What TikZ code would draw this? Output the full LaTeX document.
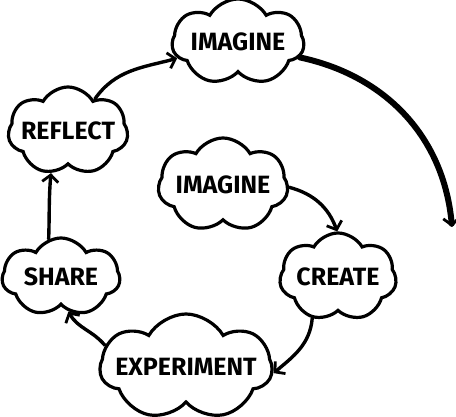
\documentclass[tikz,border=0pt]{standalone}
\usepackage{fontspec}
\setmainfont{Fira Sans}
\usetikzlibrary{shapes.symbols,arrows.meta}

\begin{document}
\begin{tikzpicture}[x=1pt, y=1pt,
  idea/.style={cloud, draw, line width=3.2pt, cloud puffs=7, cloud puff arc=120,
    inner xsep=-40pt, inner ysep=-6pt, font=\fontsize{25}{27}\selectfont\bfseries},
  flow/.style={line width=3.4pt, line cap=round,
    -{Straight Barb[length=7pt,width=16pt,line width=2.8pt]}}]
\useasboundingbox (0,0) rectangle (456,416);
% clouds
\node[idea, aspect=1.7, minimum width=132pt, minimum height=86pt] (imtop) at (238,374) {IMAGINE};
\node[idea, aspect=1.55, minimum width=120pt, minimum height=88pt] (reflect) at (68,285) {REFLECT};
\node[idea, aspect=1.45, minimum width=130pt, minimum height=94pt] (imcenter) at (223,231) {IMAGINE};
\node[idea, aspect=1.75, minimum width=118pt, minimum height=78pt] (share) at (61,139) {SHARE};
\node[idea, aspect=1.4, minimum width=117pt, minimum height=88pt] (create) at (338,139) {CREATE};
\node[idea, aspect=1.85, minimum width=172pt, minimum height=106pt] (experiment) at (186,49) {EXPERIMENT};
% free end of the big arc
\coordinate (tip) at (452,189);
% arrows
\draw[flow, line width=6pt] (imtop.-14) to[out=-12, in=95] (tip);
\draw[flow] (reflect.50) to[out=55, in=195] (imtop.195);
\draw[flow] (share.108) to[out=88, in=-95] (reflect.-112);
\draw[flow] (experiment.165) to[out=130, in=-60] (share.-78);
\draw[flow] (create.-122) to[out=-95, in=40] (experiment.-4);
\draw[flow] (imcenter.-2) to[out=-15, in=110] (create.91);
\end{tikzpicture}
\end{document}
